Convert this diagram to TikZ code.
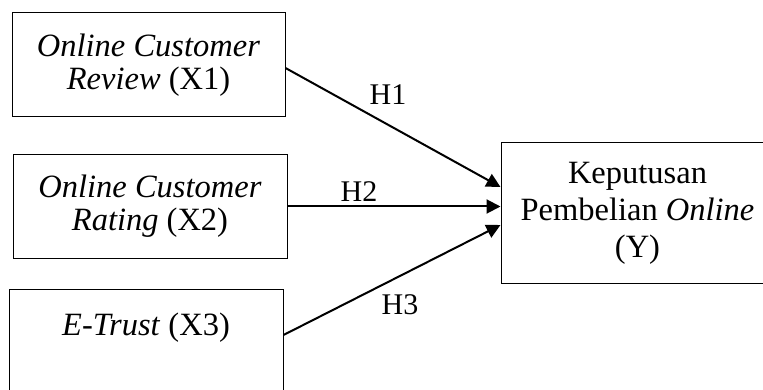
\documentclass[tikz,border=0pt]{standalone}
\usepackage{fontspec}
\setmainfont{Liberation Serif}
\usepackage{tikz}
\usetikzlibrary{arrows.meta}

\begin{document}
\begin{tikzpicture}[x=1pt, y=-1pt,
    var/.style={draw, rectangle, line width=1pt, align=center,
        font=\fontsize{32.5}{33}\selectfont},
    hyp/.style={font=\fontsize{30}{32}\selectfont},
    arr/.style={-{Triangle[length=14pt, width=14pt]}, line width=2pt}]
    \useasboundingbox (0,0) rectangle (763,390);
    \clip (0,0) rectangle (763,390);
    \node (x1) at (148.5,65) [var, minimum width=273, minimum height=104] {\textit{Online Customer}\\\textit{Review} (X1)};
    \node (x2) at (150,206.5) [var, minimum width=274, minimum height=103] {\textit{Online Customer}\\\textit{Rating} (X2)};
    \node (x3) at (146,341) [var, minimum width=274, minimum height=104] {\textit{E-Trust} (X3)\\\mbox{}};
    \node (y) at (637.5,213) [var, minimum width=273, minimum height=140, font=\fontsize{32.5}{37}\selectfont] {Keputusan\\Pembelian \textit{Online}\\(Y)};
    \draw[arr] ([yshift=-3pt]x1.east) -- ([yshift=26pt]y.west);
    \draw[arr] (x2.east) -- (x2.east -| y.west);
    \draw[arr] ([yshift=6pt]x3.east) -- ([yshift=-12pt]y.west);
    \node (h1) at (388,95) [hyp] {H1};
    \node (h2) at (359,192) [hyp] {H2};
    \node (h3) at (400,305) [hyp] {H3}; % hypothesis labels sit beside the arrows
\end{tikzpicture}
\end{document}
